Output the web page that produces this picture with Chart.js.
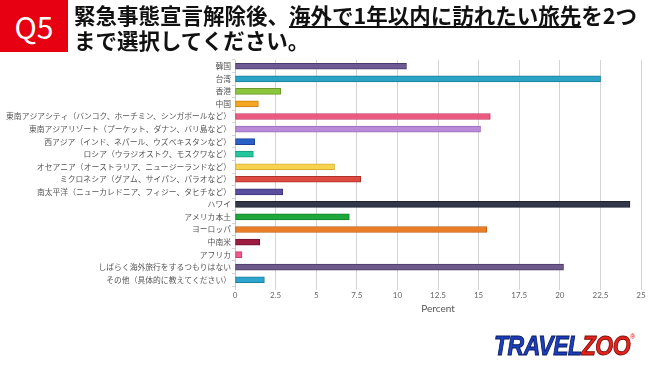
<!DOCTYPE html>
<html><head><meta charset="utf-8">
<script src="https://cdn.jsdelivr.net/npm/chart.js@4"></script>
<style>
html,body{margin:0;padding:0;background:#fff;width:650px;height:366px;overflow:hidden;}
#wrap{position:absolute;left:0;top:0;width:650px;height:366px;}
#q{position:absolute;left:0;top:0;width:68px;height:52px;background:#e60012;color:#fff;font-family:"Noto Sans CJK JP",sans-serif;font-size:30px;line-height:52px;text-align:center;}
#t{position:absolute;left:74px;top:2px;font-family:"Noto Sans CJK JP",sans-serif;font-weight:bold;font-size:21.5px;line-height:25px;color:#111;white-space:nowrap;}
#t u{text-decoration-thickness:1.5px;text-underline-offset:2px;}
#logo{position:absolute;left:494px;top:322px;font-family:"Liberation Sans",sans-serif;font-weight:bold;font-style:italic;font-size:28px;line-height:30px;letter-spacing:-0.5px;white-space:nowrap;transform:scaleX(0.82);transform-origin:0 0;}
#logo .b{color:#1b3fc0;-webkit-text-stroke:1px #0a1a5a;}
#logo .r{color:#e8231c;-webkit-text-stroke:1px #7a0c08;}
#logo sup{font-size:8px;color:#e8231c;font-style:normal;vertical-align:16px;}
</style></head>
<body>
<div id="wrap"><canvas id="c" width="650" height="366"></canvas></div>
<div id="q">Q5</div>
<div id="t">緊急事態宣言解除後、<u>海外で1年以内に訪れたい旅先</u>を2つ<br>まで選択してください。</div>
<div id="logo"><span class="b">TRAVEL</span><span class="r">ZOO</span><sup>®</sup></div>
<script>
const categories = ["韓国","台湾","香港","中国","東南アジアシティ（バンコク、ホーチミン、シンガポールなど）","東南アジアリゾート（プーケット、ダナン、バリ島など）","西アジア（インド、ネパール、ウズベキスタンなど）","ロシア（ウラジオストク、モスクワなど）","オセアニア（オーストラリア、ニュージーランドなど）","ミクロネシア（グアム、サイパン、パラオなど）","南太平洋（ニューカレドニア、フィジー、タヒチなど）","ハワイ","アメリカ本土","ヨーロッパ","中南米","アフリカ","しばらく海外旅行をするつもりはない","その他（具体的に教えてください）"];
const percentValues = [10.56, 22.51, 2.82, 1.44, 15.72, 15.12, 1.21, 1.13, 6.13, 7.74, 2.94, 24.32, 7.04, 15.51, 1.52, 0.43, 20.23, 1.81];
const barColors = ["#6f5a94","#2ba3c6","#8cc63f","#f5a623","#ec5a82","#b88ad8","#2b5fc8","#24c79b","#f7d24e","#dc4a40","#5a4f9e","#333849","#1ea83c","#ea7d26","#9c1c42","#f2578e","#6e5a8a","#2ea5cc"];
const borderColors = ["#4a3a6a","#1c7d99","#6a9a2a","#c98010","#c23a60","#9a6cbc","#1a4296","#169c78","#d8b030","#b0302a","#3c3478","#1e2230","#12802a","#c05e12","#70102c","#d03a70","#4a3a64","#1c7f9f"];
const xTicks = [0,2.5,5,7.5,10,12.5,15,17.5,20,22.5,25];

new Chart(document.getElementById('c'), {
  type: 'bar',
  data: { labels: categories, datasets: [{ data: percentValues, backgroundColor: barColors, borderColor: borderColors, borderWidth: 1, borderSkipped: false, barThickness: 6 }] },
  options: {
    indexAxis: 'y', responsive: false, animation: false,
    layout: { padding: { top: 60, right: 9, bottom: 50, left: 0 } },
    plugins: { legend: { display: false }, tooltip: { enabled: false } },
    scales: {
      x: {
        min: 0, max: 25,
        afterBuildTicks(s){ s.ticks = xTicks.map(v => ({value: v})); },
        afterFit(s){ s.height = 30; },
        grid: { color: '#d4d4d4', lineWidth: 1, tickLength: 4 },
        border: { display: false },
        ticks: { color: '#666', font: { family: 'Lato', size: 8 }, padding: 1, maxRotation: 0, autoSkip: false },
        title: { display: true, text: 'Percent', color: '#555', font: { family: 'Lato', size: 10 }, padding: { top: 0, bottom: 1 } }
      },
      y: {
        afterFit(s){ s.width = 235; },
        grid: { drawOnChartArea: false, color: '#d4d4d4', tickLength: 3 },
        border: { display: true, color: '#c8c8c8' },
        ticks: { color: '#555', font: { family: 'Noto Sans CJK JP', size: 7.8 }, padding: 1, autoSkip: false }
      }
    }
  }
});
</script>
</body></html>
